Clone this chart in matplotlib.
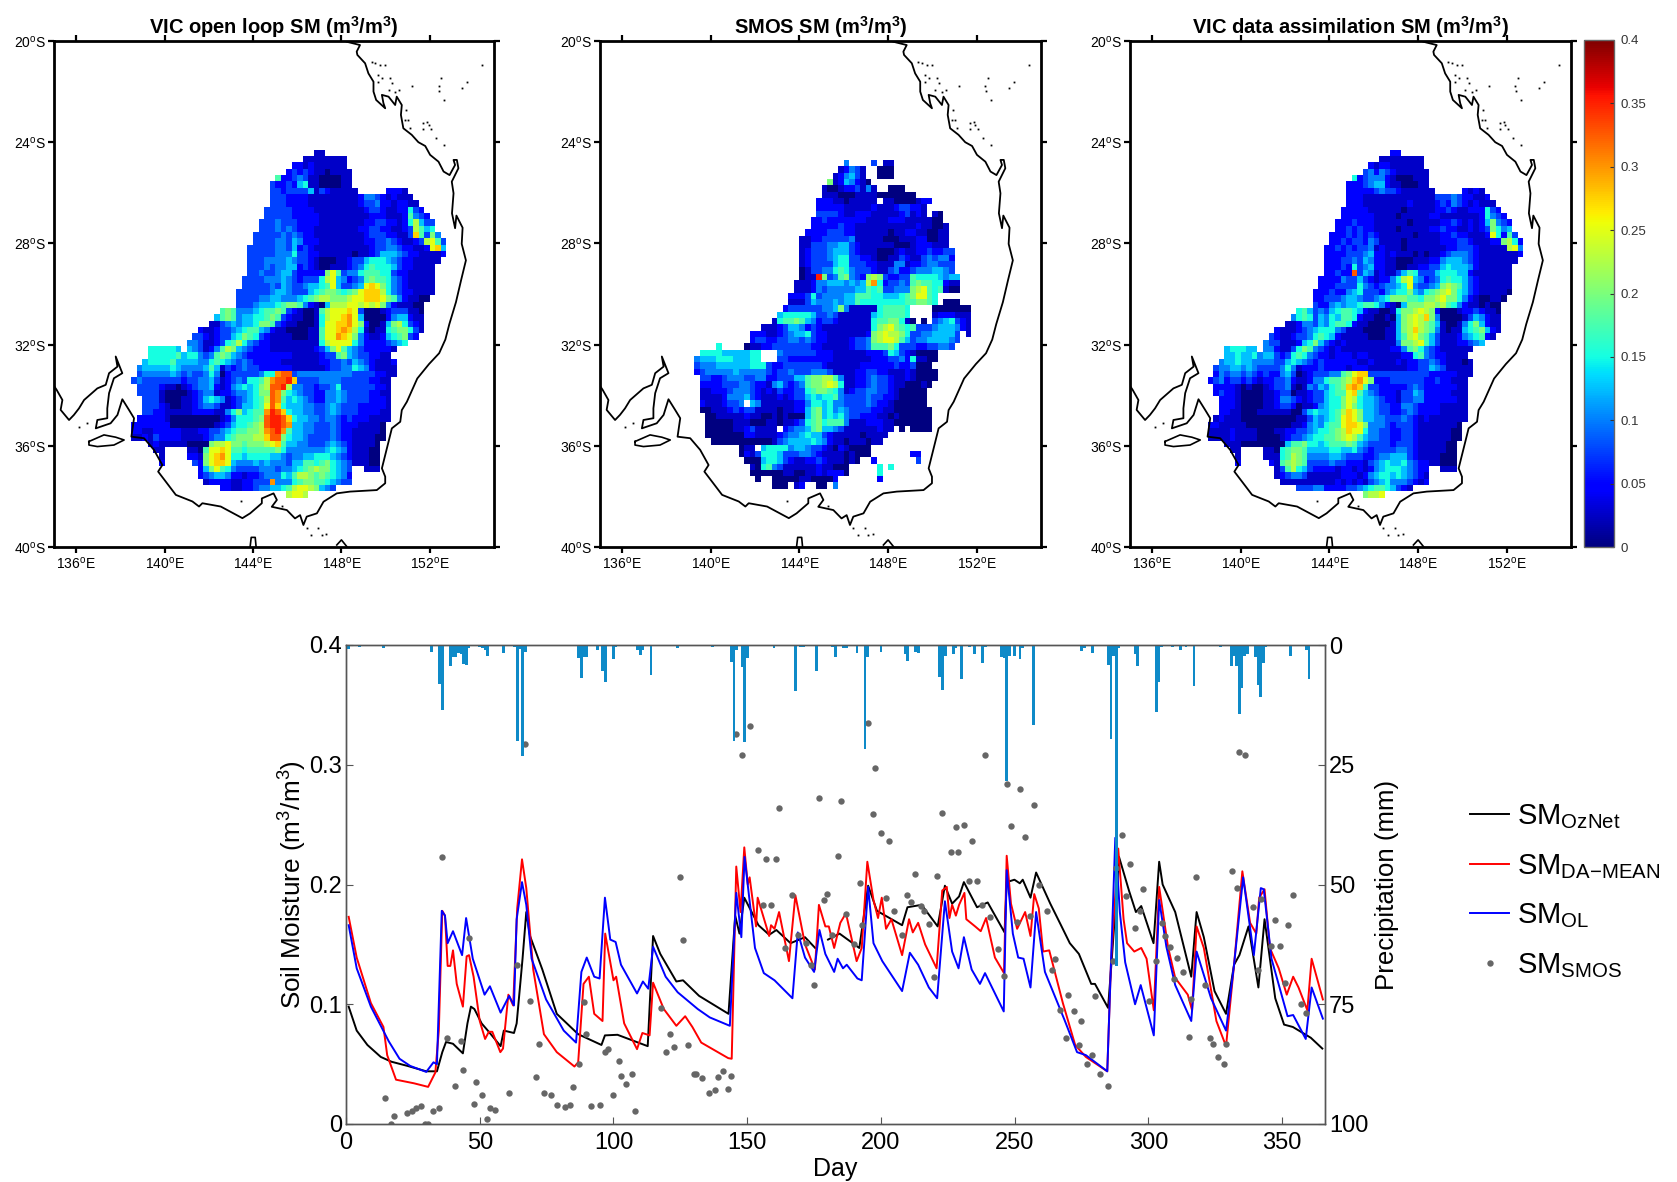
"""Soil moisture maps over the Murray-Darling basin and a one year time series."""
import numpy as np
import matplotlib
matplotlib.use("Agg")
import matplotlib.pyplot as plt

plt.rcParams["font.family"] = ["Liberation Sans", "DejaVu Sans"]
plt.rcParams["mathtext.default"] = "regular"

W, H = 1677, 1182
CODES = "0123456789abcdefg"  # one step = 0.025 m3/m3

# grid rows: (first column, cell codes), blank = no data
OL_ROWS = [
 (33,"11"), (31,"11111111"), (29,"2212111111"), (28,"232321101111"),
 (26,"72234311000011"), (25,"322325611000011"), (25,"3323333513211111     2221"),
 (25,"33322221111111112443212111"), (25,"333222211111111123342212211"),
 (24,"3333322221111111112332112"+"2632"), (24,"33333222221111111112221112"+"7432"),
 (23,"333433322221111111122332212"+"69533"), (23,"3334343222111111112233221123"+"9756"),
 (22,"33333434322111111111233322113"+"b7384"), (22,"3333443542221111111122334321123"+"9a73"),
 (21,"333334435232111111111123344322112"+"ab5"), (21,"333334446332211111101123555432211112"),
 (21,"33344"+"44543"+"32100"+"01123"+"35666"+"54322"+"11111"),
 (21,"33343"+"44552"+"32100"+"11123"+"46766"+"65322"+"1111"),
 (21,"33433"+"45532"+"22228"+"a7344"+"67776"+"63221"+"1111"),
 (20,"33334"+"44543"+"23336"+"9a542"+"34787"+"76432"+"11111"),
 (20,"33333"+"43543"+"34556"+"7a533"+"45aba"+"86432"+"11111"),
 (19,"33333"+"34554"+"33356"+"78876"+"78abb"+"b9643"+"221111"),
 (19,"33334"+"45544"+"45678"+"99888"+"9aabb"+"ba874"+"21100"),
 (19,"33345"+"55678"+"87421"+"05999"+"aa9a9"+"a8421"+"1100"),
 (16,"787"+"444567"+"787"+"321001"+"79aaab"+"a"+"30001"+"2333"+"110"),
 (15,"5787"+"45566"+"787"+"3211001"+"69aabca"+"50000"+"2455"+"211"),
 (14,"11345"+"455"+"6887"+"32110001"+"6aabbca"+"82001"+"5896"+"321"),
 (12,"211233"+"4567"+"754"+"211000011"+"7aabcb9"+"61011"+"67886"+"31"),
 (11,"33212"+"33568"+"763"+"2111100011"+"7aacba8"+"42112"+"56783"+"2"),
 (10,"443112"+"3679"+"6432"+"2111111111"+"69aaaa6"+"42222"+"3456"),
 (3,"666665"+" "+"54312"+"4798"+"5432"+"22111111112"+"358a7"+"543222"+"221"),
 (3,"6666675"+"6643"+"47875"+"43222"+"2222211111"+"23378"+"54332211"),
 (2,"56666755"+"55446"+"76543"+"43222"+"2211111112"+"23343"+"54321112"),
 (1,"45555565"+"44445"+"75132"+"34332"+"2222211111"+"123344"+"65421111"),
 (1,"34444454"+"34334"+"64023"+"3333"+"466cdd"+"34444"+"444444"+"33332211"),
 (0,"343333333"+"23344"+"53123"+"4366"+"79cddeb"+"33334"+"44433"+"3332211"),
 (1,"3333211"+"01234"+"452124"+"56568"+"9dde9"+"44332"+"33463"+"33333221"),
 (1,"3333"+"1000"+"0123"+"4412"+"234"+"4568"+"8dc86"+"54332"+"24454"+"33332211"),
 (2,"333"+"1000"+"1123"+"5654"+"123"+"4567"+"9dc75"+"65432"+"24454"+"33332221"),
 (2,"3332"+"1001"+"123"+"4431"+"123"+"5567"+"adb65"+"55443"+"34543"+"33222221"),
 (2,"332"+"2111"+"1122"+"2211"+"468"+"5677"+"cedb6"+"55443"+"34543"+"33222211"),
 (1,"2222"+"2100"+"0000"+"0001"+"246"+"6678"+"deedb"+"65544"+"34432"+"32221111"),
 (0,"22222"+"2200"+"0000"+"0012"+"356"+"6789"+"deedc"+"55443"+"33432"+"2211110"),
 (0,"22112"+"2222"+"1112"+"2334"+"567"+"7889"+"cdec7"+"55443"+"33432"+"2111110"),
 (0,"11213"+"2222"+"1111"+"2344"+"678"+"8899"+"bdd86"+"55433"+"33432"+"2111100"),
 (3,"121111"+"1000"+"0899a"+"887888"+"9ab75"+"54433"+"34543"+"211110"),
 (4,"11    110"+"7aaba"+"776777"+"77864"+"44444"+"45654"+"211100"),
 (5,"1    221"+"8abca"+"665666"+"65543"+"44556"+"66543"+"211100"),
 (5,"2     32"+"8abba"+"544454"+"54443"+"55776"+"78654"+"311100"),
 (12,"2"+"58a76"+"433334"+"44344"+"56789"+"88654"+"3"+"  "+"111"),
 (12,"2"+"34554"+"221223"+"44465"+"79987"+"87654"+"2"),
 (13,"12222"+"112233"+"3c444"+"67887"+"76543"+"3"),
 (16,"22"+"112234"+"45567"+"9aa98"+"543"),
 (28,"9aa9"),
]

DA_ROWS = [
 (33,"22"), (31,"11111111"), (29,"2122111111"), (28,"342432111111"),
 (26,"62344421000111"), (25,"222345521100011"), (25,"2222234332111111     2121"),
 (25,"22211111111111113334322112"), (25,"222111111112111123243212111"),
 (24,"2222211111101111122321122"+"2632"), (24,"22222211110111112211111112"+"6432"),
 (23,"222322211111101111122321212"+"58432"), (23,"2232322111101111122322112"+"123"+"8645"),
 (22,"22232323211111101111223221112"+"a6273"), (22,"2232332431111011111122233211122"+"8962"),
 (21,"223232334121110111111122333211111"+"9a4"), (21,"222233345221211101011234443211111112"),
 (21,"22233"+"43542"+"21100"+"01112"+"24555"+"43211"+"11111"),
 (21,"22232"+"63452"+"21100"+"11223"+"35655"+"54211"+"1111"),
 (21,"22322"+"d3541"+"21135"+"76333"+"56665"+"52111"+"1111"),
 (20,"22224"+"33532"+"12246"+"9a542"+"34676"+"65321"+"11111"),
 (20,"22233"+"33643"+"23445"+"6a433"+"45898"+"75321"+"11111"),
 (19,"22232"+"24563"+"33245"+"66854"+"6789a"+"86532"+"111110"),
 (19,"22333"+"45543"+"34568"+"88776"+"889a8"+"86421"+"00110"),
 (19,"32245"+"45567"+"76421"+"05888"+"99897"+"64211"+"0100"),
 (16,"675"+"343567"+"765"+"211001"+"6889a9"+"8"+"20001"+"2232"+"110"),
 (15,"4676"+"35465"+"776"+"2110010"+"589a9b8"+"40000"+"1354"+"211"),
 (14,"11244"+"354"+"6776"+"21100001"+"589a987"+"51001"+"4685"+"211"),
 (12,"211123"+"4566"+"643"+"111000011"+"589b987"+"41011"+"56785"+"21"),
 (11,"32112"+"33467"+"652"+"1111100011"+"579a875"+"31112"+"45672"+"1"),
 (10,"433111"+"2568"+"5321"+"2111111111"+"4889a75"+"31112"+"2345"),
 (3,"566655"+" "+"44211"+"3687"+"4321"+"21111111112"+"24786"+"432111"+"111"),
 (3,"5565564"+"5532"+"36764"+"32212"+"2212211111"+"12267"+"43221111"),
 (2,"45565544"+"44335"+"65432"+"32222"+"2211211112"+"12233"+"43211101"),
 (1,"34455454"+"33334"+"64122"+"23222"+"2122211111"+"112233"+"54311111"),
 (1,"24344343"+"23224"+"53012"+"3334"+"478abb"+"33333"+"333333"+"22222111"),
 (0,"234233232"+"12233"+"42112"+"4467"+"789bca8"+"22233"+"33332"+"2322111"),
 (1,"2222101"+"00123"+"341014"+"35467"+"8bcb7"+"33222"+"22343"+"22222211"),
 (1,"2322"+"1000"+"0112"+"3301"+"123"+"3567"+"7ab75"+"43222"+"13354"+"22222111"),
 (2,"222"+"1000"+"0112"+"4432"+"123"+"3566"+"8a965"+"54322"+"13344"+"22222211"),
 (2,"2221"+"0000"+"112"+"3320"+"112"+"4566"+"8a865"+"54332"+"24432"+"22211111"),
 (2,"221"+"1000"+"1111"+"1100"+"356"+"5567"+"9ba85"+"54332"+"23432"+"22211111"),
 (1,"1211"+"1000"+"0000"+"0001"+"135"+"4567"+"aba85"+"54433"+"34321"+"21111111"),
 (0,"22111"+"1100"+"0000"+"0011"+"245"+"4677"+"abba8"+"44432"+"33321"+"1111110"),
 (0,"11112"+"1111"+"0001"+"1223"+"345"+"6678"+"9baa6"+"44332"+"23321"+"1111100"),
 (0,"11112"+"1111"+"0000"+"1233"+"456"+"6778"+"9a975"+"44332"+"23321"+"1111100"),
 (3,"111000"+"0000"+"05778"+"665677"+"78754"+"33332"+"33321"+"111100"),
 (4,"11    110"+"67887"+"555566"+"55643"+"23333"+"44321"+"111100"),
 (5,"1    111"+"67987"+"444455"+"43332"+"23445"+"55321"+"111000"),
 (5,"2     21"+"78987"+"333343"+"32221"+"34565"+"56432"+"211000"),
 (12,"1"+"37965"+"322221"+"22121"+"24566"+"65432"+"2"+"  "+"111"),
 (12,"1"+"23443"+"111111"+"22212"+"45665"+"65432"+"1"),
 (13,"11111"+"111112"+"12121"+"34564"+"44321"+"2"),
 (16,"33"+"344222"+"23345"+"67765"+"321"),
 (28,"899a"),
]

SMOS_ROWS = [
 (30,"4    3 11"), (29,"12431  000"), (28,"124531  000"), (27,"81254210"),
 (26,"1001223141  000"), (26,"11100011"+"1100"+"00000"), (25,"22211011111 110000122"),
 (25,"22222111112111233221"), (25,"33332112221111123121 10"),
 (24,"223222222211112221111100"), (24,"2222232211111111111211001"),
 (23,"22223332211111101122110011"), (22,"112233333411111000111220011"),
 (22,"113334455321111110001222111"), (22,"1233345553211100012112232233"),
 (22,"1233345663322100113211343442"), (22,"1233335663332211144122344333"),
 (22,"0133446764333211342234445543"),
 (22,"011"+"e8"+"34"+"78"+"432"+"898"+"32233"+"76666"+"5"+"455"),
 (21,"1"+"112"+"4455"+"54545"+"9c6"+"23343"+"78776"+"6211"),
 (21,"1112"+"4344"+"44455"+"767"+"33444"+"89a76"+"7100"),
 (20,"22236"+"3444"+"45577"+"76655"+"567"+"8aa76"),
 (20,"11135"+"4445"+"45576"+"66666"+"667"+"78876"+" "+"000"),
 (19,"23333"+"3344"+"584"+"11111"+"677776"+"    "+"0000000"),
 (18,"56666"+"65334"+"31111"+"11"+"567777"+"6"+"    "+"1222111"),
 (17,"1"+"67787"+"54233"+"2111111"+"677886"+"1"+"0 0 "+"3456321"),
 (15,"11"+"123"+"5542"+"32111"+"111111"+"689a87"+"67333"+"4555421"),
 (13,"222112"+"34556"+"32211"+"111112"+"89a998"+"63344"+"55553"+" 1"),
 (13,"233223"+"34434"+"32211"+"112334"+"89aa97"+"53445"+"55543"),
 (7,"6    "+"011"+"22333"+"33332"+"21111"+"12334"+"77786"+"33322"+"33443"),
 (4,"66665555566"+"   "+"4333"+"33322"+"21111"+"11222"+"36532"+"10000"),
 (3,"455566655566"+"   "+"3322"+"22222"+"21111"+"11122"+"23342"+"61100"),
 (3,"344455555"+"5666"+"32233"+"33333"+"21111"+"11222"+"22232"+"23000"),
 (3,"234444454"+"4444"+"32334"+"33344"+"43111"+"12233"+"22111"+"21000"+"0"),
 (4,"33223444"+"3344"+"22333"+"55788"+"99741"+"12234"+"33211"+"210000"),
 (4,"22223334"+"4322"+"14532"+"34788"+"9a961"+"12234"+"33211"+"00010"),
 (4,"11222344"+"4321"+"21322"+"33678"+"87641"+"23344"+"33210"+"0000"),
 (4,"11112444"+"5321"+"11212"+"33565"+"66743"+"33343"+"32210"+"0000"),
 (4,"21112334"+" 541"+"11111"+"22466"+"56443"+"33343"+"22100"+"0000"),
 (4,"00111232"+"3311"+"11011"+"22578"+"56454"+"33332"+"21100"+"00000"),
 (5,"0011111"+"2110"+"01010"+"00578"+"56564"+"33222"+"11010"+"00000"),
 (5,"0000011"+"1000"+"11011"+"23678"+"67774"+"11122"+"21100"+"00000"),
 (5,"0000011"+"2311"+"11 23"+"44578"+"55431"+"11111"+"211"+" 0 0000"),
 (5,"0000000"+"2211"+"11234"+"45655"+"32111"+"11011"+"11"),
 (6,"000000"+"0000"+"01345"+"55565"+"42110"+"11101"+"1"),
 (11,"011"+" "+"56666"+"45543"+"32102"+"10000"),
 (11,"021"+"3"+"66653"+"33443"+"21111"+"01000"+"       "+"22"),
 (12,"000"+"56653"+"21122"+"32111"+"010"+"  "+"2"+"       "+"3"),
 (13,"106"+"74311"+"11112"+"11000"+"     "+"6"+" "+"6"),
 (13,"00000"+"01100"+"11212"+"220"+"     "+"6"),
 (14,"0"+"  "+"000001100002"+"       "+"2"),
 (17,"000"+" "+"12"+"  "+"00"+" "+"4"),
]

COAST_LON = [148.24,148.84,148.69,148.72,149.07,149.22,149.45,149.45,149.57,149.98,149.9,149.83,150.13,150.43,
             150.5,150.73,150.69,150.8,151.18,151.48,151.79,152.01,152.39,152.62,152.89,153.14,153.07,153.22,
             153.29,152.99,153.07,153.0,153.14,153.2,153.48,153.44,153.63,153.41,153.18,152.88,152.7,152.42,
             151.96,151.43,150.96,150.73,150.66,150.28,150.13,149.83,149.98,149.98,149.6,148.39,147.79,147.19,
             146.89,146.43,146.28,146.13,145.9,145.53,144.85,145.08,144.93,144.4,144.4,143.87,143.52,142.54,
             141.71,141.56,141.26,140.51,140.05,139.71,139.9,139.52,139.07,138.5,138.62,138.39,138.09,137.87,
             137.56,136.89,136.96,137.41,137.41,137.49,137.71,138.09,137.79,137.87,137.49,137.34,136.96,136.36,
             136.13,135.9,135.68,135.3,135.38,135.12,134.9]
COAST_LAT = [-20.03,-20.16,-20.42,-20.55,-20.88,-21.28,-21.61,-22.0,-22.33,-22.66,-22.46,-22.13,-22.2,-22.53,
             -22.2,-22.53,-22.92,-23.45,-23.71,-24.0,-24.15,-24.5,-24.77,-25.16,-25.3,-24.9,-24.7,-24.7,
             -25.03,-25.56,-26.02,-26.81,-27.4,-26.9,-27.38,-28.02,-28.67,-29.46,-30.32,-31.19,-31.8,-32.34,
             -32.77,-33.34,-34.26,-34.59,-35.05,-35.31,-35.84,-36.89,-37.22,-37.48,-37.75,-37.81,-37.88,-38.21,
             -38.67,-38.8,-39.13,-38.74,-38.87,-38.54,-38.41,-38.14,-37.88,-38.08,-38.27,-38.67,-38.86,-38.4,
             -38.27,-38.4,-38.2,-37.94,-37.41,-37.02,-36.76,-36.16,-35.7,-35.64,-34.91,-34.58,-34.16,-34.78,
             -35.11,-35.31,-34.98,-34.91,-34.52,-33.92,-33.33,-33.13,-32.47,-32.87,-33.13,-33.59,-33.73,-34.19,
             -34.52,-34.78,-34.98,-34.58,-34.19,-33.79,-33.5]
KANGAROO_LON = [136.58,137.26,137.79,138.17,137.71,136.96,136.58,136.58]
KANGAROO_LAT = [-35.83,-35.57,-35.66,-35.77,-35.97,-36.03,-35.97,-35.83]
KING_LON = [143.87,143.92,144.1,144.14]
KING_LAT = [-39.99,-39.62,-39.62,-39.99]
TAS_LON = [147.79,148.0,148.24]
TAS_LAT = [-39.92,-39.72,-39.98]
ISLE_LON = [143.45,145.3,149.37,149.52,149.75,149.98,149.67,149.83,149.67,150.2,150.28,150.13,150.43,150.62,150.88,
            151.03,151.11,151.71,151.86,151.94,151.68,152.04,152.28,152.66,152.51,152.39,152.43,152.66,151.18,
            153.45,153.67,154.35,150.93,146.96,147.31,146.63,146.43,147.11,136.51,136.13]
ISLE_LAT = [-38.2,-38.38,-20.82,-20.88,-20.95,-20.95,-21.34,-21.48,-21.61,-21.48,-21.67,-21.94,-22.0,-21.94,-23.12,
            -23.12,-23.45,-23.25,-23.19,-23.32,-23.49,-23.49,-23.82,-24.11,-21.48,-21.78,-21.96,-22.33,-21.78,
            -21.84,-21.61,-20.95,-22.73,-39.24,-39.49,-39.53,-39.24,-39.53,-35.11,-35.27]

OZ_DAY = [1,4,8,13,17,23,30,34,36,37.4,40,43.7,45.4,46.7,48,50.7,53.4,57.8,59,62.8,63.8,66,67.4,68.8,73.4,78.8,86.8,95.5,96.8,101.5,112.8,114.8,117.5,123.5,126,132,143,145.5,147.1,148.9,154.2,158.2,160.9,166.2,171.6,175.4,
          176,180,180.2,184.5,191.9,195.2,198.5,207.9,209.9,215.2,221.2,223.9,226.6,229.2,231,235.9,239.9,246.2,247,249.9,251.9,253,255.9,258,263.3,267.3,270.6,274,278.6,280,284.9,286.2,289,292.7,295.3,297.3,301.9,304,305.3,310,316,318,320.7,324.7,329,332,334,337.4,341.1,343.4,347.4,350.7,354,360.7,365]
OZ_VAL = [.098,.078,.066,.056,.052,.0485,.044,.044,.06,.0685,.067,.059,.084,.098,.096,.084,.077,.065,.078,.076,.084,.138,.177,.157,.129,.092,.075,.066,.074,.0745,.065,.157,.142,.119,.12,.107,.092,.174,.159,.189,.166,.158,.162,.151,.156,.147,
          np.nan,np.nan,.154,.159,.147,.199,.178,.166,.181,.183,.165,.199,.184,.19,.202,.181,.185,.16,.202,.204,.201,.204,.189,.21,.184,.166,.151,.142,.117,.117,.097,.135,.223,.195,.177,.182,.151,.219,.2,.177,.123,.177,.156,.111,.092,.133,.141,.165,.114,.171,.105,.083,.081,.072,.063]
DA_DAY = [1,4,9.3,14,15.4,18.7,25.4,30.7,33.4,34.7,36,37,38,39,40,41.4,43.7,45.1,46,47.7,50,52,53.4,54.7,57.7,58.7,60.7,62.5,64,65.8,67.4,70,74,78.8,85.4,86.8,88.8,90.8,92.8,95.9,96.9,100,101,104,108.8,110.8,113.5,114.8,118.8,123.5,126.8,129.5,132.8,138.2,142.9,144.2,145.9,147.5,148.9,150.2,150.9,153.3,153.9,158.2,158.9,160.2,161.9,165.6,168,171.6,175.3,176.8,179.2,180.5,182.5,184.8,186.9,190.9,192.8,194.9,197.2,198.9,200.3,201.9,203.9,207.9,210.5,211.9,213.9,216.5,220.8,222.9,224.6,225.6,226.6,228,229.2,231.2,231.9,235.2,237.3,239.3,242.6,246,247,248.6,250.9,253.9,255.9,257.3,259,260.6,262.9,268,272.6,276.6,284.6,286,288.7,290.7,292,294.7,297.3,299.3,302,304,307.3,310,314.7,316.3,318,320.7,325.4,329,332,335.1,338,340.3,341.4,343.4,345.4,348.7,351.7,354.1,356.1,359.4,361,365.2]
DA_VAL = [.173,.139,.101,.081,.0575,.037,.034,.031,.043,.078,.178,.174,.132,.132,.145,.117,.098,.14,.141,.123,.086,.071,.077,.077,.06,.063,.108,.099,.18,.221,.197,.129,.075,.06,.048,.0515,.117,.123,.092,.086,.159,.12,.123,.084,.0625,.076,.074,.118,.096,.082,.09,.081,.068,.061,.055,.0545,.215,.177,.231,.2,.206,.165,.189,.157,.166,.163,.177,.136,.191,.15,.129,.183,.165,.165,.147,.168,.176,.136,.147,.219,.187,.172,.189,.163,.171,.141,.171,.16,.168,.15,.13,.195,.198,.172,.183,.174,.183,.193,.171,.165,.161,.172,.139,.126,.224,.184,.163,.177,.157,.192,.18,.144,.145,.101,.066,.056,.044,.135,.23,.171,.151,.144,.147,.138,.095,.198,.148,.122,.108,.095,.165,.147,.086,.065,.133,.211,.168,.159,.189,.196,.147,.13,.108,.123,.114,.095,.138,.104]
OL_DAY = [1,4,9.3,16,20,24,30,32.7,34,35.8,37,38,40,43.4,44.9,47.4,51.8,53.8,57.8,61,62.8,63.8,65.8,67.4,69.4,74.8,81.4,86,88,90,92.8,94.8,96.8,98.8,100.8,102.8,108.8,111,113,114.8,119.5,124,131.5,136,143.5,145.9,147.8,149,152.9,156.2,160.2,166.9,168.9,171.6,175,177,179.2,182.5,183.8,185.8,187.2,191.2,192.8,195.2,197.2,200.5,207.9,210.8,213.9,217.9,221,223.9,226.6,229,231,233.9,237,238.9,245.9,247,249.3,251.3,253.3,255.9,258,261.3,268.6,273.3,276.6,284.6,286,287.6,289.3,291.3,295,297.1,302,304,306.7,310,316,318,323.4,329,332,335.4,339.4,342,343.1,346,352,354.1,358.8,361,365.2]
OL_VAL = [.166,.13,.098,.069,.0545,.0485,.0435,.0515,.05,.178,.174,.151,.161,.141,.172,.138,.108,.115,.093,.107,.099,.171,.202,.183,.138,.104,.078,.068,.127,.139,.123,.1215,.189,.154,.152,.133,.109,.119,.113,.148,.123,.11,.096,.089,.082,.193,.156,.223,.147,.126,.12,.105,.16,.139,.127,.162,.142,.127,.138,.13,.133,.1215,.12,.198,.151,.136,.111,.143,.133,.114,.105,.186,.144,.13,.156,.129,.117,.126,.094,.212,.159,.139,.138,.114,.177,.127,.087,.06,.0575,.044,.135,.239,.177,.135,.1,.116,.074,.187,.148,.116,.086,.144,.105,.078,.133,.206,.141,.197,.196,.138,.09,.091,.071,.114,.088]
SMOS_DAY = [14.7,16.8,17.8,22.7,24.7,26,27.9,29.6,30.7,32.7,34.7,35.9,37.6,40.7,43,43.8,45.8,48.7,48,51,52.7,53.8,55.8,60.9,63.8,66.9,68.8,70.9,72,74.1,76.8,78.9,82,83.8,84.8,87,88.8,89.9,91.7,94.9,96.8,98.1,99.9,102.1,102.8,104.7,106.8,107.9,117.9,119.8,121.1,122.8,125,126,127.8,130.2,130.8,133,135.8,137.9,138.9,141,142.9,143.8,145.8,148.1,150.9,153.9,156,156.9,158.9,160.9,162,164.1,166.8,168.9,171.8,173.7,174.8,176.9,178.8,180,181.8,184,184.9,186.9,189.9,192,192.9,195.2,196.9,197.9,200,201.7,203.1,204.9,207.9,209.7,211.1,212.8,215,216,217.9,219.9,220.8,223,226,228,228.8,231,232.8,234,235.9,237.9,238.9,240.9,243.9,246,247,248.7,251,251.9,253.9,255.9,257.1,259,261.9,264,265,266.9,269.2,270,272,274.1,274.9,277,278.9,280,282,285,286.8,288,290,291.7,293.1,294.9,296.9,298,300.1,302.8,305.1,306,308.1,309.7,310.8,313,315,316,317.9,321,323,324.2,326,328.2,329,331.1,333,334,336,339.1,341.1,341.9,345.8,347.3,349.1,351.1,352.1,353.9,357,359]
SMOS_VAL = [.022,0,.007,.009,.011,.013,.015,0,0,.011,.013,.223,.072,.032,.069,.045,.155,.035,.017,.024,.004,.013,.012,.026,.133,.317,.103,.039,.067,.026,.024,.016,.014,.016,.031,.05,.102,.075,.015,.016,.06,.063,.024,.053,.04,.033,.042,.011,.097,.06,.075,.064,.206,.154,.066,.042,.042,.038,.026,.028,.039,.044,.029,.04,.326,.308,.332,.229,.183,.221,.183,.221,.264,.147,.191,.158,.151,.133,.116,.272,.187,.192,.158,.224,.27,.175,.15,.201,.166,.335,.259,.297,.243,.189,.236,.178,.158,.191,.185,.209,.182,.178,.167,.123,.207,.26,.227,.248,.227,.25,.203,.236,.203,.183,.308,.173,.146,.124,.284,.249,.169,.28,.24,.174,.266,.2,.178,.129,.138,.095,.072,.108,.094,.066,.086,.05,.058,.107,.042,.032,.136,.214,.241,.19,.217,.164,.178,.196,.103,.136,.168,.157,.148,.121,.139,.127,.073,.104,.206,.116,.072,.067,.056,.05,.067,.211,.197,.311,.308,.181,.129,.188,.149,.17,.149,.118,.166,.191,.1,.093]
RAIN_DAY = [1,2,5,14,32,35,36,39,40,41,42,43,44,45,46,50,51,52,53,59,63,64,65,66,67,87,88,89,90,94,96,97,100,101,109,110,111,114,118,120,124,137,144,145,146,148,149,150,158,160,167,168,170,171,176,
            182,183,186,187,191,194,195,200,209,210,213,214,222,223,224,227,228,230,233,235,238,239,245,246,247,248,250,252,253,257,259,275,276,279,285,286,287,288,289,295,296,298,300,303,304,305,309,312,314,317,318,327,331,332,333,334,335,336,337,340,341,342,343,344,350,353,359,360]
RAIN_MM = [.8,.2,.4,.6,1.5,8.2,13.5,4.4,2.6,2.5,1.6,1.8,4,4.1,.6,.4,.7,1,2.2,1.7,.4,20,.8,23.2,1.5,2.7,6.8,2.5,2.5,1,5.5,7.8,3,.5,1,2,1,6.3,.2,.3,.6,.4,3.6,20,1,4.5,20.2,2.8,.3,.7,.3,9.6,.5,.4,5.4,
           .4,2.5,.6,.7,1.6,21.7,2.5,1.5,1.8,3.4,1.5,1.6,6.7,9.3,2.2,1.9,.7,7,.4,1.9,3.7,.4,2.5,2.8,28.3,2.2,2.2,3,.7,16.8,.2,1.3,.7,1.6,4.1,19.7,2.2,67,.7,1.9,4.3,.2,.3,13.9,7.8,.4,.4,1.1,.4,8.6,.3,.4,4.3,2.2,4.3,14.4,8.9,2.2,1.9,2.6,8.4,10.8,3.7,.4,.3,2.2,1.1,7]

LON_TICKS = [136, 140, 144, 148, 152]
LAT_TICKS = [-20, -24, -28, -32, -36, -40]
CBAR_TICKS = [0, 0.05, 0.1, 0.15, 0.2, 0.25, 0.3, 0.35, 0.4]
CBAR_LABELS = ["0", "0.05", "0.1", "0.15", "0.2", "0.25", "0.3", "0.35", "0.4"]


def px_axes(fig, x0, y0, x1, y1):
    return fig.add_axes([x0 / W, 1 - y1 / H, (x1 - x0) / W, (y1 - y0) / H])


def grid_from_rows(rows, ncol=60):
    out = np.full((len(rows), ncol), np.nan)
    for r, (start, cells) in enumerate(rows):
        for i, ch in enumerate(cells):
            if ch != " ":
                out[r, start + i] = CODES.index(ch) * 0.025
    return out


def draw_map(fig, box, rows, lat_top, title):
    ax = px_axes(fig, *box)
    g = grid_from_rows(rows)
    lons = 138.5 + 0.25 * np.arange(g.shape[1] + 1)
    lats = lat_top - 0.25 * np.arange(g.shape[0] + 1)
    pm = ax.pcolormesh(lons, lats, g, cmap="jet", vmin=0, vmax=0.4, shading="flat")
    ax.plot(COAST_LON, COAST_LAT, color="k", lw=1.3)
    ax.plot(KANGAROO_LON, KANGAROO_LAT, color="k", lw=1.2)
    ax.plot(KING_LON, KING_LAT, color="k", lw=1.2)
    ax.plot(TAS_LON, TAS_LAT, color="k", lw=1.2)
    ax.plot(ISLE_LON, ISLE_LAT, ls="none", marker="s", ms=1.3, color="k", mew=0)
    ax.set_xlim(135, 154.9)
    ax.set_ylim(-40, -20)
    ax.set_xticks(LON_TICKS)
    ax.set_xticklabels([f"{v}$^{{o}}$E" for v in LON_TICKS], fontsize=10)
    ax.set_yticks(LAT_TICKS)
    ax.set_yticklabels([f"{-v}$^{{o}}$S" for v in LAT_TICKS], fontsize=10)
    ax.tick_params(direction="out", length=4, width=1.6, top=True, right=True, pad=2)
    for s in ax.spines.values():
        s.set_linewidth(2.0)
    ax.set_title(title, fontsize=14.5, fontweight="bold", pad=5)
    return pm


def main():
    fig = plt.figure(figsize=(W / 100, H / 100), dpi=100)

    draw_map(fig, (54, 41, 494, 547), OL_ROWS, -24.3, "VIC open loop SM (m$^3$/m$^3$)")
    draw_map(fig, (600, 41, 1041, 547), SMOS_ROWS, -24.7, "SMOS SM (m$^3$/m$^3$)")
    pm = draw_map(fig, (1130, 41, 1571, 547), DA_ROWS, -24.3, "VIC data assimilation SM (m$^3$/m$^3$)")

    cax = px_axes(fig, 1584, 40, 1614, 547)
    cb = fig.colorbar(pm, cax=cax)
    cb.set_ticks(CBAR_TICKS)
    cb.set_ticklabels(CBAR_LABELS)
    cax.tick_params(direction="in", length=3, width=0.8, labelsize=9.5, colors="#333333", pad=5)
    cb.outline.set_edgecolor("#666666")
    cb.outline.set_linewidth(1.0)

    ax = px_axes(fig, 346, 645, 1325, 1124)
    ax.plot(OZ_DAY, OZ_VAL, color="k", lw=1.4, label="SM$_{OzNet}$")
    ax.plot(DA_DAY, DA_VAL, color="#ff0000", lw=1.4, label="SM$_{DA{-}MEAN}$")
    ax.plot(OL_DAY, OL_VAL, color="#0000ff", lw=1.4, label="SM$_{OL}$")
    ax.plot(SMOS_DAY, SMOS_VAL, ls="none", marker="o", ms=4.6, color="#666666", mew=0,
            label="SM$_{SMOS}$")
    ax.set_xlim(0, 366)
    ax.set_ylim(0, 0.4)
    ax.set_xticks(range(0, 351, 50))
    ax.set_yticks([0, 0.1, 0.2, 0.3, 0.4])
    ax.set_yticklabels(["0", "0.1", "0.2", "0.3", "0.4"])
    ax.tick_params(direction="in", length=5, width=0.8, color="#555555", labelsize=17)
    ax.tick_params(axis="x", pad=6)
    ax.tick_params(axis="y", pad=3)
    ax.set_xlabel("Day", fontsize=18, labelpad=2)
    ax.set_ylabel("Soil Moisture (m$^3$/m$^3$)", fontsize=18.8, labelpad=0)
    for s in ax.spines.values():
        s.set_color("#555555")
        s.set_linewidth(1.0)

    ax2 = ax.twinx()
    ax2.bar(RAIN_DAY, RAIN_MM, width=1.0, color="#0e8ac8", linewidth=0)
    ax2.set_ylim(100, 0)
    ax2.set_yticks([0, 25, 50, 75, 100])
    ax2.tick_params(direction="in", length=5, width=0.8, color="#555555", labelsize=17, pad=3)
    ax2.set_ylabel("Precipitation (mm)", fontsize=18.6, labelpad=5)
    for s in ax2.spines.values():
        s.set_color("#555555")
        s.set_linewidth(1.0)

    ax.legend(loc="upper left", bbox_to_anchor=(1470 / W, 1 - 802 / H),
              bbox_transform=fig.transFigure, frameon=False, fontsize=21, handlelength=1.35,
              handletextpad=0.25, labelspacing=0.72, borderpad=0, borderaxespad=0)

    fig.savefig("out.png", dpi=100)
    plt.close(fig)


if __name__ == "__main__":
    main()
